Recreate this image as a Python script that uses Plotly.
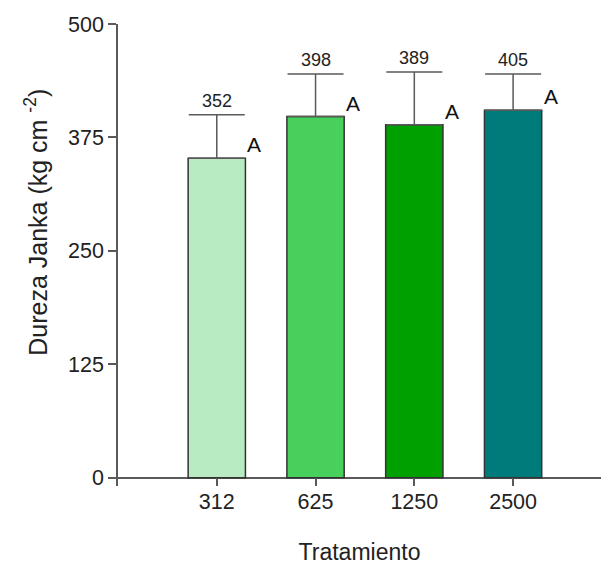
import plotly.graph_objects as go

# Janka hardness by treatment
tratamientos = ["312", "625", "1250", "2500"]
dureza = [352, 398, 389, 405]
error_sup = [48, 47, 58, 40]
letras = ["A", "A", "A", "A"]
colores = ["#b8ebc1", "#48d05c", "#00a000", "#007b7b"]
y_ticks = [0, 125, 250, 375, 500]

pos = list(range(1, len(tratamientos) + 1))
FONT = "Liberation Sans, Arial, sans-serif"
AXIS = "#5a5a5a"

fig = go.Figure(
    go.Bar(
        x=pos,
        y=dureza,
        width=0.58,
        marker=dict(color=colores, line=dict(color="#333333", width=1.5)),
        error_y=dict(
            type="data",
            symmetric=False,
            array=error_sup,
            arrayminus=[0] * len(dureza),
            color=AXIS,
            thickness=1.5,
            width=28,
        ),
        showlegend=False,
    )
)

annotations = []
for xi, v, e, letra in zip(pos, dureza, error_sup, letras):
    annotations.append(dict(
        x=xi, y=v + e, xref="x", yref="y", text=str(v), showarrow=False,
        xanchor="center", yanchor="bottom", yshift=2,
        font=dict(family=FONT, size=18, color="#222222"),
    ))
    annotations.append(dict(
        x=xi + 0.29, y=v, xref="x", yref="y", text=letra, showarrow=False,
        xanchor="left", yanchor="bottom", yshift=0,
        font=dict(family=FONT, size=21, color="#111111"),
    ))

annotations.append(dict(
    x=0, y=281, xref="paper", yref="y", xshift=-82,
    text="Dureza Janka (kg cm <sup>-2</sup>)", textangle=-90, showarrow=False,
    xanchor="center", yanchor="middle",
    font=dict(family=FONT, size=25, color="#222222"),
))

fig.update_layout(
    width=603,
    height=565,
    margin=dict(l=118, r=2, t=24, b=79),
    plot_bgcolor="white",
    paper_bgcolor="white",
    font=dict(family=FONT, color="#222222"),
    annotations=annotations,
    xaxis=dict(
        range=[0, 4.89],
        tickvals=pos,
        ticktext=tratamientos,
        ticks="inside",
        ticklen=8,
        tickwidth=1.5,
        tickcolor=AXIS,
        showline=False,
        showgrid=False,
        zeroline=False,
        automargin=False,
        tickfont=dict(family=FONT, size=21.5, color="#222222"),
        title=dict(text="Tratamiento", font=dict(family=FONT, size=23, color="#222222"), standoff=38),
    ),
    yaxis=dict(
        range=[-9, 500],
        tickvals=y_ticks,
        ticks="outside",
        ticklen=8,
        tickwidth=1.5,
        tickcolor=AXIS,
        showline=True,
        linecolor=AXIS,
        linewidth=1.5,
        showgrid=False,
        zeroline=True,
        zerolinecolor=AXIS,
        zerolinewidth=1.5,
        automargin=False,
        tickfont=dict(family=FONT, size=21.5, color="#222222"),
    ),
)

fig.write_html("out.html")
